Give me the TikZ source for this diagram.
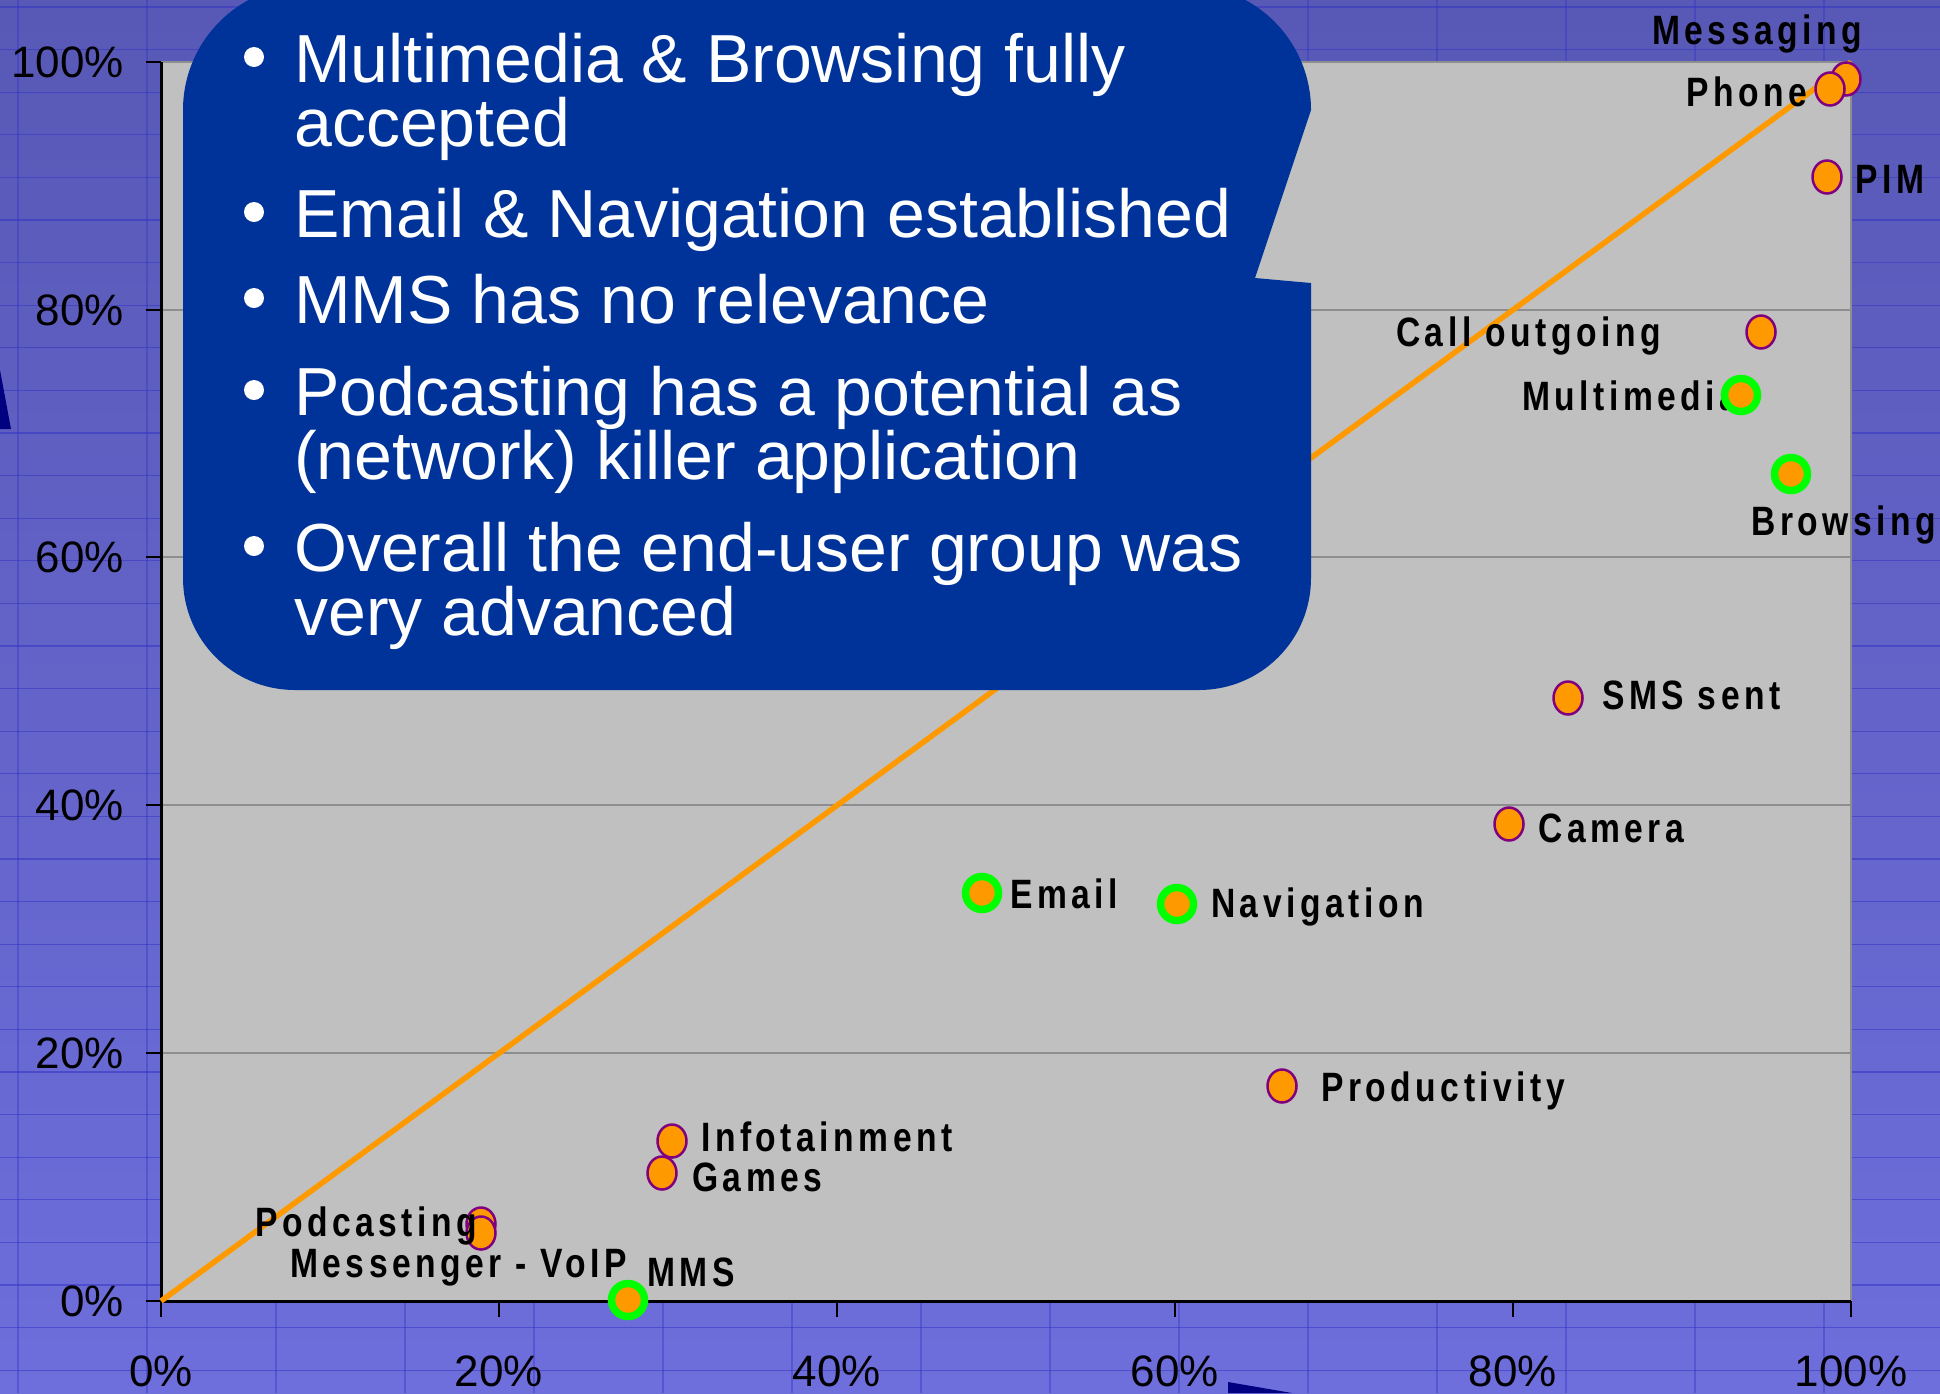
\documentclass[tikz,border=0pt]{standalone}
\usepackage{fontspec}
\setmainfont{Liberation Sans}
\newfontfamily\lblfont[FakeStretch=0.82,LetterSpace=11]{Liberation Sans}
\usetikzlibrary{shapes.geometric}
\definecolor{bgtop}{HTML}{5858B6}
\definecolor{bgbot}{HTML}{6E6EDC}
\definecolor{bgline}{HTML}{3434C4}
\definecolor{plotgray}{HTML}{C0C0C0}
\definecolor{gridgray}{HTML}{8E8E8E}
\definecolor{orng}{HTML}{FF9900}
\definecolor{purp}{HTML}{800080}
\definecolor{grn}{HTML}{00FF00}
\definecolor{callblue}{HTML}{003399}
\definecolor{navy}{HTML}{000080}
\begin{document}
\begin{tikzpicture}[x=1pt,y=-1pt,
  pm/.style={ellipse,draw=purp,fill=orng,line width=2.5pt,minimum width=29pt,minimum height=33pt,inner sep=0pt},
  gm/.style={circle,draw=grn,fill=orng,line width=7.5pt,minimum size=33pt,inner sep=0pt},
  lbl/.style={font=\lblfont\bfseries\fontsize{41}{41}\selectfont,inner sep=0pt,anchor=base west},
  tl/.style={font=\fontsize{44}{44}\selectfont,inner sep=0pt},
  bt/.style={font=\fontsize{68}{68}\selectfont,text=white,inner sep=0pt,anchor=base west},
  bul/.style={circle,fill=white,minimum size=20pt,inner sep=0pt},
  gline/.style={draw=gridgray,line width=2.5pt},
  axisline/.style={draw=black,line width=3pt},
  tick/.style={draw=black,line width=2.5pt}]
\useasboundingbox (0,0) rectangle (1940,1393);
\clip (0,0) rectangle (1940,1393);
% background
\shade[top color=bgtop,bottom color=bgbot] (0,0) rectangle (1940,1393);
\foreach \k in {0,...,32} \draw[bgline,line width=1.2pt,opacity=0.55] (0,7+42.6*\k) -- (1940,7+42.6*\k);
\foreach \k in {0,...,15} \draw[bgline,line width=1.2pt,opacity=0.4] (18+129*\k,0) -- (18+129*\k,1393);
% dark navy wedges
\fill[navy] (0,370) -- (11,429) -- (0,429) -- cycle;
\fill[navy] (1228,1382) -- (1292,1393) -- (1228,1393) -- cycle;
% plot area
\fill[plotgray] (161,62) rectangle (1851,1301);
\foreach \y in {310,557,805,1053} \draw[gline] (161,\y) -- (1851,\y);
\draw[gline] (161,62) -- (1851,62) -- (1851,1301);
% axes
\coordinate (o) at (161,1301);
\coordinate (tr) at (1851,62);
\coordinate (yt) at (161,62);
\coordinate (xr) at (1851,1301);
\foreach \y in {62,310,557,805,1053,1301} \draw[tick] (146,\y) -- (161,\y);
\foreach \x in {161,499,837,1175,1513,1851} \draw[tick] (\x,1301) -- (\x,1317);
\draw[axisline] (yt) -- (o) -- (xr);
% tick labels
\node[tl,anchor=east] (y100) at (124,62) {100\%};
\node[tl,anchor=east] (y80) at (124,310) {80\%};
\node[tl,anchor=east] (y60) at (124,557) {60\%};
\node[tl,anchor=east] (y40) at (124,805) {40\%};
\node[tl,anchor=east] (y20) at (124,1053) {20\%};
\node[tl,anchor=east] (y0) at (124,1301) {0\%};
\node[tl] (x0) at (161,1371) {0\%};
\node[tl] (x20) at (499,1371) {20\%};
\node[tl] (x40) at (837,1371) {40\%};
\node[tl] (x60) at (1175,1371) {60\%};
\node[tl] (x80) at (1513,1371) {80\%};
\node[tl] (x100) at (1851,1371) {100\%};
% diagonal
\draw[orng,line width=5.5pt] (o) -- (tr);
% purple-edged markers
\node[pm] (mMessaging) at (1846,79) {};
\node[pm] (mPhone) at (1830,89) {};
\node[pm] (mPIM) at (1827,177) {};
\node[pm] (mCall) at (1761,332) {};
\node[pm] (mSMS) at (1568,698) {};
\node[pm] (mCamera) at (1509,824) {};
\node[pm] (mProd) at (1282,1086) {};
\node[pm] (mInfo) at (672,1141) {};
\node[pm] (mGames) at (662,1173) {};
\node[pm] (mPod) at (481,1224) {};
\node[pm] (mMess) at (481,1233) {};
% labels
\node[lbl] (lMessaging) at (1652,44) {Messaging};
\node[lbl] (lPhone) at (1686,106) {Phone};
\node[lbl] (lPIM) at (1855,193) {PIM};
\node[lbl] (lCall) at (1396,346) {Call outgoing};
\node[lbl] (lMultimedia) at (1522,410) {Multimedia};
\node[lbl] (lBrowsing) at (1751,535) {Browsing};
\node[lbl] (lSMS) at (1602,709) {SMS sent};
\node[lbl] (lCamera) at (1538,842) {Camera};
\node[lbl] (lEmail) at (1010,908) {Email};
\node[lbl] (lNav) at (1211,917) {Navigation};
\node[lbl] (lProd) at (1321,1101) {Productivity};
\node[lbl] (lInfo) at (701,1151) {Infotainment};
\node[lbl] (lGames) at (692,1191) {Games};
\node[lbl] (lPod) at (255,1236) {Podcasting};
\node[lbl] (lMess) at (290,1277) {Messenger - VoIP};
\node[lbl] (lMMS) at (647,1286) {MMS};
% green-ringed markers
\node[gm] (mMultimedia) at (1741,395) {};
\node[gm] (mBrowsing) at (1791,474) {};
\node[gm] (mEmail) at (982,893) {};
\node[gm] (mNav) at (1177,904) {};
\node[gm] (mMMS) at (628,1300) {};
% callout
\fill[callblue] (183,110) .. controls (183,41) and (239,-15) .. (308,-15)
  -- (1186,-15) .. controls (1255,-15) and (1311,41) .. (1311,110)
  -- (1255,278) -- (1311,283)
  -- (1311,578) .. controls (1311,640) and (1261,690) .. (1199,690)
  -- (295,690) .. controls (233,690) and (183,640) .. (183,578) -- cycle;
\node[bul] (b1) at (254,57) {};
\node[bt] (t1a) at (294,82) {Multimedia \& Browsing fully};
\node[bt] (t1b) at (294,146) {accepted};
\node[bul] (b2) at (254,212) {};
\node[bt] (t2) at (294,237) {Email \& Navigation established};
\node[bul] (b3) at (254,298) {};
\node[bt] (t3) at (294,323) {MMS has no relevance};
\node[bul] (b4) at (254,390) {};
\node[bt] (t4a) at (294,415) {Podcasting has a potential as};
\node[bt] (t4b) at (294,479) {(network) killer application};
\node[bul] (b5) at (254,546) {};
\node[bt] (t5a) at (294,571) {Overall the end-user group was};
\node[bt] (t5b) at (294,635) {very advanced};
\end{tikzpicture}
\end{document}
